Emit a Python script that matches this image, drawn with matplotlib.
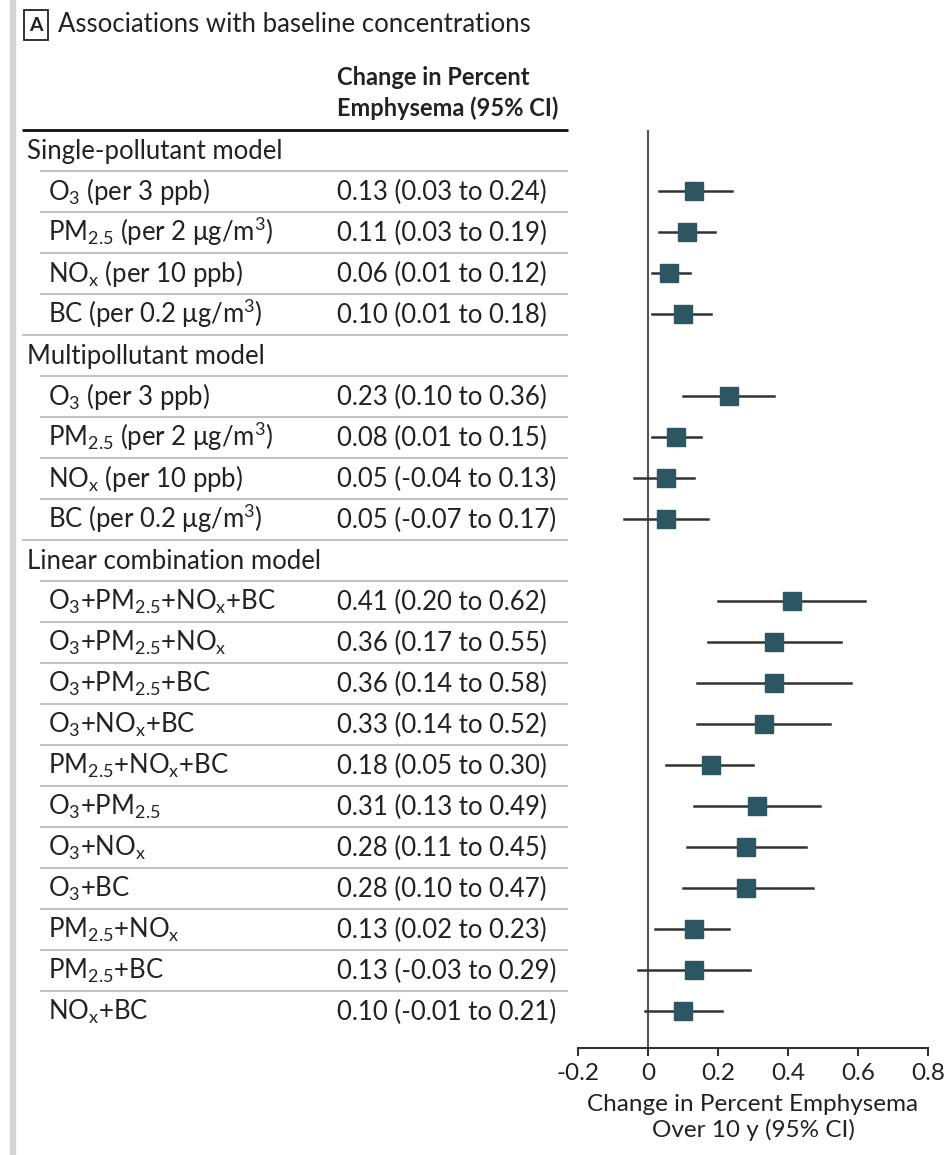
import matplotlib
matplotlib.use("Agg")
import matplotlib.pyplot as plt
from matplotlib.patches import Rectangle
from matplotlib.transforms import blended_transform_factory

plt.rcParams['font.family'] = ['Lato', 'DejaVu Sans']
plt.rcParams['mathtext.default'] = 'regular'

W, H = 951, 1155

# Estimates and 95% CIs per model
single_labels = ["O$_3$ (per 3 ppb)", "PM$_{2.5}$ (per 2 μg/m$^3$)",
                 "NO$_x$ (per 10 ppb)", "BC (per 0.2 μg/m$^3$)"]
single_est = [0.13, 0.11, 0.06, 0.10]
single_lo = [0.03, 0.03, 0.01, 0.01]
single_hi = [0.24, 0.19, 0.12, 0.18]

multi_labels = single_labels
multi_est = [0.23, 0.08, 0.05, 0.05]
multi_lo = [0.10, 0.01, -0.04, -0.07]
multi_hi = [0.36, 0.15, 0.13, 0.17]

linear_labels = ["O$_3$+PM$_{2.5}$+NO$_x$+BC", "O$_3$+PM$_{2.5}$+NO$_x$",
                 "O$_3$+PM$_{2.5}$+BC", "O$_3$+NO$_x$+BC", "PM$_{2.5}$+NO$_x$+BC",
                 "O$_3$+PM$_{2.5}$", "O$_3$+NO$_x$", "O$_3$+BC",
                 "PM$_{2.5}$+NO$_x$", "PM$_{2.5}$+BC", "NO$_x$+BC"]
linear_est = [0.41, 0.36, 0.36, 0.33, 0.18, 0.31, 0.28, 0.28, 0.13, 0.13, 0.10]
linear_lo = [0.20, 0.17, 0.14, 0.14, 0.05, 0.13, 0.11, 0.10, 0.02, -0.03, -0.01]
linear_hi = [0.62, 0.55, 0.58, 0.52, 0.30, 0.49, 0.45, 0.47, 0.23, 0.29, 0.21]

groups = [
    ("Single-pollutant model", single_labels, single_est, single_lo, single_hi),
    ("Multipollutant model", multi_labels, multi_est, multi_lo, multi_hi),
    ("Linear combination model", linear_labels, linear_est, linear_lo, linear_hi),
]

xticks = [-0.2, 0, 0.2, 0.4, 0.6, 0.8]

FS = 18.5       # table rows and title
FS_HEAD = 17    # bold column header
FS_AX = 17.5    # tick labels and axis title
TEXT = "#222222"
MARK = "#2c5662"
RULE = "#c4c4c4"


def fx(px):
    return px / W


def fy(py):
    return 1 - py / H


fig = plt.figure(figsize=(W / 100, H / 100), dpi=100)

# grey bar down the left edge
fig.patches.append(Rectangle((fx(10), 0), fx(5), 1, transform=fig.transFigure,
                             color="#d3d3d3", zorder=0))

# panel letter in a box, then the panel title
fig.patches.append(Rectangle((fx(24), fy(40)), fx(48) - fx(24), fy(10) - fy(40),
                             transform=fig.transFigure, fc="white",
                             ec="#222222", lw=1.3))
fig.text(fx(36), fy(25.5), "A", fontsize=14, fontweight="bold", color=TEXT,
         ha="center", va="center")
fig.text(fx(58), fy(25), "Associations with baseline concentrations",
         fontsize=FS, color=TEXT, ha="left", va="center")
fig.text(fx(337), fy(85), "Change in Percent", fontsize=FS_HEAD, fontweight="bold",
         color=TEXT, ha="left", va="baseline")
fig.text(fx(337), fy(116), "Emphysema (95% CI)", fontsize=FS_HEAD, fontweight="bold",
         color=TEXT, ha="left", va="baseline")

row_top, row_bot = 129.5, 1048
ax = fig.add_axes([fx(578), fy(row_bot), fx(928) - fx(578), (row_bot - row_top) / H])
ax.set_xlim(-0.2, 0.8)
ax.set_ylim(21.9, -0.5)

tr = blended_transform_factory(fig.transFigure, ax.transData)

# heavy rule under the column header
ax.plot([fx(22), fx(568)], [-0.5, -0.5], transform=tr, color="#111111",
        lw=2, clip_on=False, solid_capstyle="butt")

row = 0
for gi, (name, labels, est, lo, hi) in enumerate(groups):
    ax.text(fx(27), row + 0.22, name, transform=tr, fontsize=FS, color=TEXT,
            ha="left", va="baseline")
    ax.plot([fx(40), fx(568)], [row + 0.5, row + 0.5], transform=tr, color=RULE,
            lw=1.5, clip_on=False, solid_capstyle="butt")
    row += 1
    for i, lab in enumerate(labels):
        ax.text(fx(48), row + 0.22, lab, transform=tr, fontsize=FS, color=TEXT,
                ha="left", va="baseline")
        ax.text(fx(337), row + 0.22, f"{est[i]:.2f} ({lo[i]:.2f} to {hi[i]:.2f})",
                transform=tr, fontsize=FS, color=TEXT, ha="left", va="baseline")
        last = i == len(labels) - 1
        if not (last and gi == len(groups) - 1):
            x0 = fx(22) if last else fx(40)
            ax.plot([x0, fx(568)], [row + 0.5, row + 0.5], transform=tr,
                    color=RULE, lw=1.5, clip_on=False, solid_capstyle="butt")
        ax.plot([lo[i], hi[i]], [row, row], color="#333333", lw=1.8, zorder=2)
        ax.plot(est[i], row, marker="s", ms=13.5, color=MARK, mec=MARK, zorder=3)
        row += 1

ax.axvline(0, color="#555555", lw=1.5, zorder=1)

for s in ("top", "right", "left"):
    ax.spines[s].set_visible(False)
ax.spines["bottom"].set_color("#333333")
ax.spines["bottom"].set_linewidth(1.5)
ax.set_yticks([])
ax.set_xticks(xticks)
ax.set_xticklabels(["-0.2", "0", "0.2", "0.4", "0.6", "0.8"])
ax.tick_params(axis="x", direction="out", length=6, width=1.5, color="#333333",
               labelsize=FS_AX, labelcolor=TEXT, pad=5)
ax.set_xlabel("Change in Percent Emphysema\nOver 10 y (95% CI)", fontsize=FS_AX,
              color=TEXT, labelpad=7, linespacing=1.2)

fig.savefig("out.png", dpi=100, facecolor="white")
